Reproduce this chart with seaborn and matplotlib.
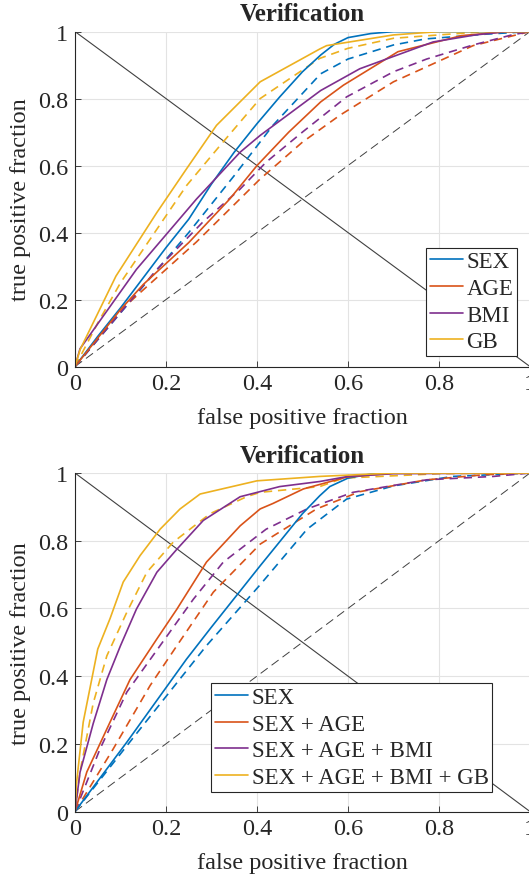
import numpy as np
import pandas as pd
import seaborn as sns
import matplotlib.pyplot as plt

# MATLAB default line colours
colors = ["#0072BD", "#D95319", "#7E2F8E", "#EDB120"]

# ---- top panel: single features (solid / dashed curves) ----
top_labels = ["SEX", "AGE", "BMI", "GB"]

sex_fpr = [0, 0.05, 0.1, 0.2, 0.25, 0.3, 0.35, 0.4, 0.45, 0.5, 0.54, 0.57, 0.6, 0.65, 0.7, 1]
sex_tpr = [0, 0.09, 0.175, 0.355, 0.44, 0.545, 0.64, 0.725, 0.805, 0.88, 0.93, 0.962, 0.982, 0.994, 1, 1]
sex_d_fpr = [0, 0.05, 0.1, 0.25, 0.35, 0.435, 0.54, 0.6, 0.7, 0.77, 0.9, 1]
sex_d_tpr = [0, 0.08, 0.16, 0.40, 0.57, 0.72, 0.874, 0.918, 0.96, 0.978, 0.992, 1]

age_fpr = [0, 0.05, 0.1, 0.15, 0.25, 0.34, 0.4, 0.47, 0.54, 0.59, 0.71, 0.85, 0.95, 1]
age_tpr = [0, 0.085, 0.17, 0.245, 0.37, 0.50, 0.60, 0.70, 0.79, 0.84, 0.94, 0.988, 1, 1]
age_d_fpr = [0, 0.11, 0.267, 0.407, 0.5, 0.582, 0.70, 0.875, 0.97, 1]
age_d_tpr = [0, 0.18, 0.372, 0.56, 0.67, 0.75, 0.85, 0.958, 0.99, 1]

bmi_fpr = [0, 0.011, 0.135, 0.267, 0.363, 0.407, 0.54, 0.626, 0.787, 0.88, 0.95, 1]
bmi_tpr = [0, 0.053, 0.29, 0.50, 0.64, 0.69, 0.824, 0.889, 0.969, 0.99, 1, 1]
bmi_d_fpr = [0, 0.062, 0.18, 0.28, 0.363, 0.42, 0.5, 0.597, 0.7, 0.773, 0.875, 0.96, 1]
bmi_d_tpr = [0, 0.10, 0.29, 0.43, 0.53, 0.61, 0.70, 0.805, 0.88, 0.918, 0.96, 0.99, 1]

gb_fpr = [0, 0.011, 0.09, 0.18, 0.2, 0.245, 0.311, 0.407, 0.538, 0.553, 0.7, 0.8, 1]
gb_tpr = [0, 0.05, 0.27, 0.46, 0.5, 0.59, 0.72, 0.85, 0.948, 0.958, 0.99, 1, 1]
gb_d_fpr = [0, 0.05, 0.1, 0.245, 0.319, 0.407, 0.538, 0.6, 0.7, 0.9, 1]
gb_d_tpr = [0, 0.13, 0.25, 0.54, 0.66, 0.80, 0.92, 0.95, 0.98, 1, 1]

# ---- bottom panel: combined features ----
bot_labels = ["SEX", "SEX + AGE", "SEX + AGE + BMI", "SEX + AGE + BMI + GB"]

s_fpr = [0, 0.114, 0.245, 0.3, 0.407, 0.5, 0.538, 0.56, 0.6, 0.65, 0.7, 1]
s_tpr = [0, 0.205, 0.45, 0.545, 0.726, 0.88, 0.933, 0.96, 0.985, 0.997, 1, 1]
s_d_fpr = [0, 0.135, 0.289, 0.407, 0.51, 0.597, 0.7, 0.83, 1]
s_d_tpr = [0, 0.23, 0.49, 0.67, 0.834, 0.923, 0.962, 0.99, 1]

sa_fpr = [0, 0.026, 0.077, 0.121, 0.18, 0.224, 0.289, 0.363, 0.407, 0.435, 0.502, 0.597, 0.7, 1]
sa_tpr = [0, 0.117, 0.264, 0.39, 0.51, 0.598, 0.737, 0.844, 0.894, 0.91, 0.953, 0.988, 1, 1]
sa_d_fpr = [0, 0.084, 0.165, 0.224, 0.304, 0.407, 0.531, 0.626, 0.773, 0.9, 1]
sa_d_tpr = [0, 0.185, 0.372, 0.49, 0.648, 0.79, 0.894, 0.945, 0.98, 0.995, 1]

sab_fpr = [0, 0.011, 0.04, 0.07, 0.1, 0.135, 0.18, 0.224, 0.282, 0.363, 0.45, 0.538, 0.6, 0.7, 1]
sab_tpr = [0, 0.116, 0.26, 0.39, 0.49, 0.598, 0.707, 0.775, 0.86, 0.93, 0.96, 0.975, 0.99, 0.998, 1]
sab_d_fpr = [0, 0.055, 0.114, 0.187, 0.26, 0.326, 0.42, 0.51, 0.611, 0.773, 0.92, 1]
sab_d_tpr = [0, 0.185, 0.353, 0.49, 0.627, 0.737, 0.834, 0.894, 0.943, 0.98, 0.99, 1]

sabg_fpr = [0, 0.003, 0.018, 0.05, 0.077, 0.106, 0.143, 0.187, 0.231, 0.275, 0.40, 0.538, 0.7, 1]
sabg_tpr = [0, 0.08, 0.264, 0.48, 0.57, 0.678, 0.756, 0.834, 0.894, 0.938, 0.977, 0.99, 1, 1]
sabg_d_fpr = [0, 0.011, 0.04, 0.07, 0.114, 0.158, 0.216, 0.297, 0.377, 0.407, 0.538, 0.59, 0.8, 1]
sabg_d_tpr = [0, 0.117, 0.32, 0.46, 0.589, 0.707, 0.796, 0.88, 0.93, 0.943, 0.96, 0.985, 0.998, 1]

top_solid = [(sex_fpr, sex_tpr), (age_fpr, age_tpr), (bmi_fpr, bmi_tpr), (gb_fpr, gb_tpr)]
top_dash = [(sex_d_fpr, sex_d_tpr), (age_d_fpr, age_d_tpr), (bmi_d_fpr, bmi_d_tpr), (gb_d_fpr, gb_d_tpr)]
bot_solid = [(s_fpr, s_tpr), (sa_fpr, sa_tpr), (sab_fpr, sab_tpr), (sabg_fpr, sabg_tpr)]
bot_dash = [(s_d_fpr, s_d_tpr), (sa_d_fpr, sa_d_tpr), (sab_d_fpr, sab_d_tpr), (sabg_d_fpr, sabg_d_tpr)]

sns.set_style("whitegrid")
plt.rcParams['font.family'] = ['Liberation Serif', 'DejaVu Serif']

fig = plt.figure(figsize=(5.29, 8.78), dpi=100)
ax1 = fig.add_axes([0.1418, 0.5814, 0.86, 0.3815])
ax2 = fig.add_axes([0.1418, 0.0746, 0.86, 0.3855])

ticks = [0, 0.2, 0.4, 0.6, 0.8, 1]
ticklabels = ["0", "0.2", "0.4", "0.6", "0.8", "1"]
fs = 17.5


def draw(ax, solid, dashed, labels, legend_anchor, legend_loc):
    # chance line and EER line
    ax.plot([0, 1], [0, 1], color="#404040", lw=0.7, ls=(0, (9, 5)), zorder=2)
    ax.plot([0, 1], [1, 0], color="#404040", lw=0.8, zorder=2)
    for (fx, fy), col in zip(dashed, colors):
        sns.lineplot(x=fx, y=fy, ax=ax, color=col, lw=1.2, linestyle=(0, (5, 3.5)),
                     sort=False, estimator=None, legend=False)
    for (fx, fy), col, lab in zip(solid, colors, labels):
        sns.lineplot(x=fx, y=fy, ax=ax, color=col, lw=1.2, sort=False,
                     estimator=None, label=lab)
    ax.set_xlim(0, 1)
    ax.set_ylim(0, 1)
    ax.set_xticks(ticks, ticklabels)
    ax.set_yticks(ticks, ticklabels)
    ax.tick_params(direction="in", length=4, width=0.6, labelsize=fs, colors="#262626",
                   top=False, right=False, left=True, bottom=True, pad=5)
    ax.grid(True, color="#e3e3e3", lw=0.8)
    for side in ["top", "right"]:
        ax.spines[side].set_visible(False)
    for side in ["left", "bottom"]:
        ax.spines[side].set_color("#262626")
        ax.spines[side].set_linewidth(0.8)
    ax.set_xlabel("false positive fraction", fontsize=fs, color="#262626", labelpad=9)
    ax.set_ylabel("true positive fraction", fontsize=fs, color="#262626", labelpad=5)
    ax.set_title("Verification", fontsize=18, fontweight="bold", pad=8)
    h, l = ax.get_legend_handles_labels()
    leg = ax.legend(h[-4:], l[-4:], loc=legend_loc, bbox_to_anchor=legend_anchor,
                    fontsize=16.5, frameon=True, fancybox=False, framealpha=1,
                    edgecolor="#262626", handlelength=1.45, handletextpad=0.15,
                    labelspacing=0.25, borderpad=0.15, borderaxespad=0)
    leg.get_frame().set_linewidth(0.8)


draw(ax1, top_solid, top_dash, top_labels, (0.971, 0.032), "lower right")
draw(ax2, bot_solid, bot_dash, bot_labels, (0.30, 0.0585), "lower left")

fig.savefig("out.png", dpi=100)
